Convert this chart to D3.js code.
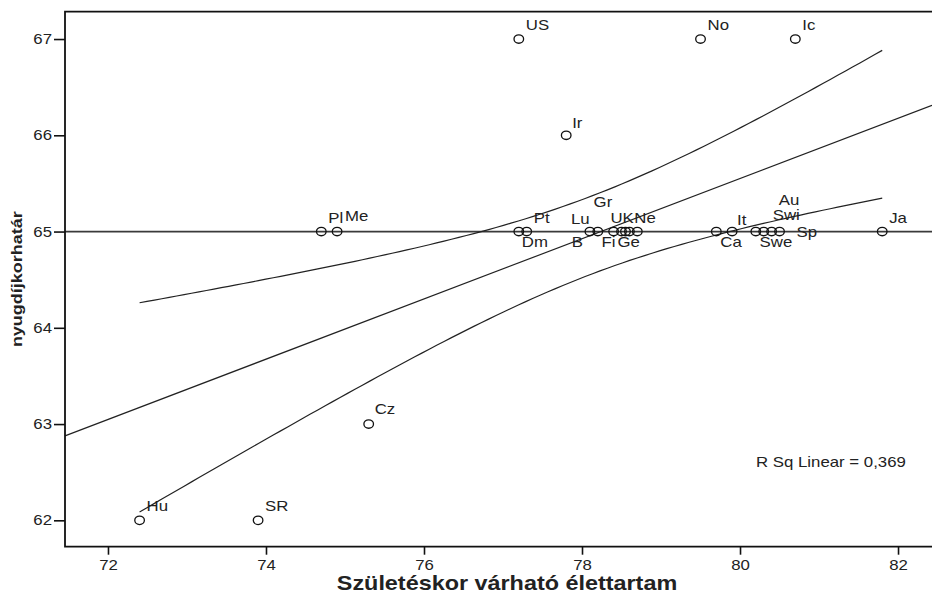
<!DOCTYPE html>
<html><head><meta charset="utf-8">
<script src="https://cdn.jsdelivr.net/npm/d3@7"></script>
<style>
body{margin:0;background:#fff}
svg{display:block}
text{font-family:"Liberation Sans",Arial,sans-serif;fill:#222}
</style>
</head><body>
<svg id="chart" width="932" height="596"></svg>
<script>
// ---- data ----
const countries = ["Hu","SR","Cz","Pl","Me","US","Ir","No","Ic","Ja","Dm","Pt","Lu","B","Gr","Fi","UK","Ge","Ne","Ca","It","Au","Swi","Swe","Sp"];
const lifeExp   = [72.4,73.9,75.3,74.7,74.9,77.2,77.8,79.5,80.7,81.8,77.2,77.3,78.1,78.2,78.4,78.5,78.55,78.6,78.7,79.7,79.9,80.2,80.3,80.4,80.5];
const retireAge = [62,62,63,65,65,67,66,67,67,65,65,65,65,65,65,65,65,65,65,65,65,65,65,65,65];
const xTicks = [72,74,76,78,80,82];
const yTicks = [62,63,64,65,66,67];
const refAge = 65;
const xTitle = "Születéskor várható élettartam";
const yTitle = "nyugdíjkorhatár";
const tCrit = 2.069; // t(0.975, df = n-2 = 23)

// ---- layout / style (not data) ----
const SX = 1.2; // horizontal text stretch of the original rendering
const labelOffset = {
  Me:[8,-11], Dm:[3,15], Lu:[-19,-8], B:[-26,15], Gr:[-20,-25], Fi:[-20,15], UK:[-15,-9],
  Ge:[-12,15], Ne:[-3,-9], Ca:[4,15], It:[5,-7], Au:[23,-27], Swi:[9,-12],
  Swe:[-12,15], Sp:[17,5], Ir:[6,-7], Cz:[6,-10]
};
const defaultOffset = [7,-9];

const svg = d3.select("#chart");
const x = d3.scaleLinear().domain([71.456, 82.43]).range([65, 932]);
const y = d3.scaleLinear().domain([61.726, 67.284]).range([546.7, 11.7]);
const [L, R] = x.range(); const [B, T] = y.range();

const data = countries.map((c,i)=>({c, x:lifeExp[i], y:retireAge[i]}));

// regression
const n = data.length;
const mx = d3.mean(lifeExp), my = d3.mean(retireAge);
const sxx = d3.sum(lifeExp, v=>(v-mx)*(v-mx));
const syy = d3.sum(retireAge, v=>(v-my)*(v-my));
const sxy = d3.sum(data, d=>(d.x-mx)*(d.y-my));
const slope = sxy/sxx, icpt = my - slope*mx;
const r2 = sxy*sxy/(sxx*syy);
const sse = d3.sum(data, d=>Math.pow(d.y-(icpt+slope*d.x),2));
const s = Math.sqrt(sse/(n-2));
const fit = v => icpt + slope*v;
const half = v => tCrit*s*Math.sqrt(1/n + (v-mx)*(v-mx)/sxx);

// reference line at 65
svg.append("line").attr("x1",L).attr("x2",R).attr("y1",y(refAge)).attr("y2",y(refAge))
  .attr("stroke","#3a3a3a").attr("stroke-width",1.8);

// fit line over whole x range
const line = d3.line().x(d=>x(d[0])).y(d=>y(d[1]));
const xd = x.domain();
svg.append("path").attr("d", line([[xd[0],fit(xd[0])],[xd[1],fit(xd[1])]]))
  .attr("fill","none").attr("stroke","#222").attr("stroke-width",1.2);

// confidence band
const ext = d3.extent(lifeExp);
const xs = d3.range(0,101).map(i=>ext[0]+(ext[1]-ext[0])*i/100);
[1,-1].forEach(sg=>{
  svg.append("path").attr("d", line(xs.map(v=>[v, fit(v)+sg*half(v)])))
    .attr("fill","none").attr("stroke","#222").attr("stroke-width",1.2);
});

// points
svg.append("g").selectAll("ellipse").data(data).join("ellipse")
  .attr("cx",d=>x(d.x)).attr("cy",d=>y(d.y)).attr("rx",4.8).attr("ry",4.2)
  .attr("fill","none").attr("stroke","#111").attr("stroke-width",1.3);

// labels
svg.append("g").selectAll("text").data(data).join("text")
  .attr("transform",d=>{const o=labelOffset[d.c]||defaultOffset;
     return `translate(${x(d.x)+o[0]},${y(d.y)+o[1]}) scale(${SX},1)`;})
  .attr("font-size",14).text(d=>d.c);

// axes
const xa = svg.append("g").attr("transform",`translate(0,${B})`)
  .call(d3.axisBottom(x).tickValues(xTicks).tickSize(8).tickPadding(5).tickFormat(d3.format("d")));
xa.select(".domain").remove();
xa.selectAll("line").attr("stroke","#111").attr("stroke-width",1.6);
xa.selectAll("text").attr("font-size",14).attr("fill","#222").attr("transform",`scale(${SX},1)`)
  .attr("font-family","'Liberation Sans',Arial,sans-serif");

const ya = svg.append("g").attr("transform",`translate(${L},0)`)
  .call(d3.axisLeft(y).tickValues(yTicks).tickSize(11).tickPadding(2).tickFormat(d3.format("d")));
ya.select(".domain").remove();
ya.selectAll("line").attr("stroke","#111").attr("stroke-width",1.6);
ya.selectAll("text").attr("font-size",14).attr("fill","#222").attr("x",-13/SX)
  .attr("transform",`scale(${SX},1)`).attr("font-family","'Liberation Sans',Arial,sans-serif");

// frame
svg.append("path").attr("d",`M${R+5},${T}H${L}V${B}H${R+5}`)
  .attr("fill","none").attr("stroke","#111").attr("stroke-width",1.8);

// R squared annotation
svg.append("text").attr("transform",`translate(756,467) scale(${SX},1)`).attr("font-size",14)
  .text("R Sq Linear = " + d3.format(".3f")(r2).replace(".",","));

// axis titles
svg.append("text").attr("transform",`translate(507,590) scale(${SX},1)`)
  .attr("text-anchor","middle").attr("font-size",19.5).attr("font-weight","bold").text(xTitle);
svg.append("text").attr("transform",`translate(22,${(T+B)/2}) rotate(-90) scale(${SX},1)`)
  .attr("text-anchor","middle").attr("font-size",15).attr("font-weight","bold").text(yTitle);
</script>
</body></html>
